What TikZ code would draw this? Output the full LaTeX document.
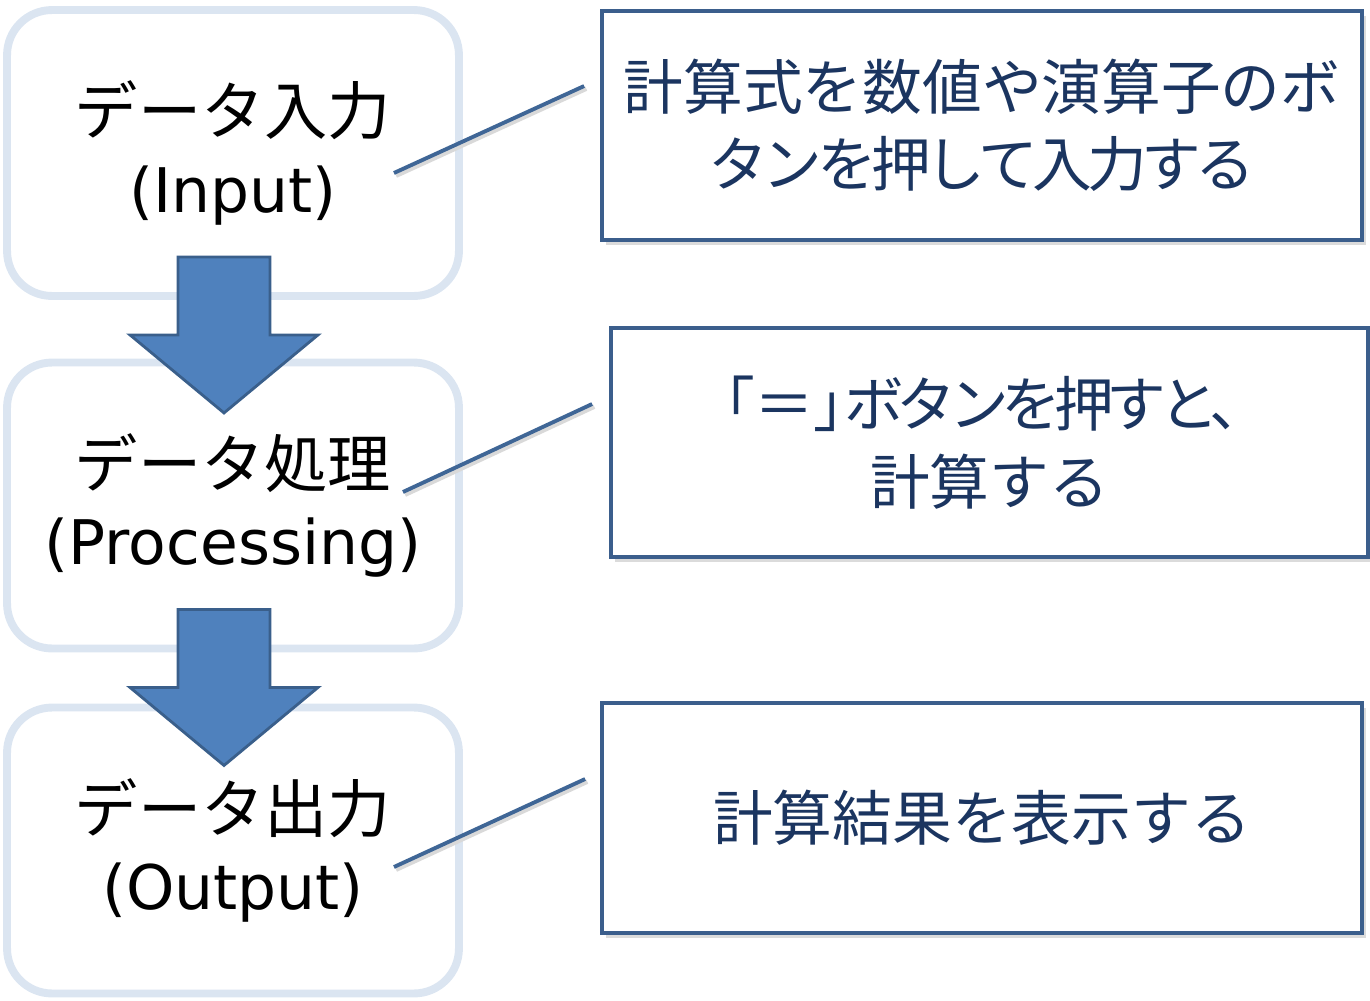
\documentclass[tikz,border=0pt]{standalone}
\usepackage{fontspec}
\setmainfont{Noto Sans CJK JP}
\newfontfamily\latinfont{DejaVu Sans}
\usepackage{xcolor}
\usepackage{tikz}
\usetikzlibrary{positioning, calc, shadows}
\definecolor{stageedge}{HTML}{DBE5F1}
\definecolor{arrowfill}{HTML}{4F81BD}
\definecolor{arrowedge}{HTML}{3A5F8B}
\definecolor{noteedge}{HTML}{3B5E8C}
\definecolor{notetext}{HTML}{1B3560}
\definecolor{linkblue}{HTML}{3F6696}
\newcommand{\engl}[1]{{\latinfont\fontsize{35}{44}\selectfont #1}}
\newcommand{\tight}[2]{{\addfontfeatures{LetterSpace=#1}#2}}

\begin{document}
\begin{tikzpicture}[
  x=0.02cm, y=-0.02cm,
  stagebox/.style={rectangle, rounded corners=0.9cm, draw=stageedge, line width=4.5pt,
    fill=white, minimum width=9.04cm, minimum height=5.72cm, align=center,
    font=\fontsize{36}{44}\selectfont},
  notebox/.style={rectangle, draw=noteedge, line width=2.2pt, fill=white,
    drop shadow={shadow xshift=2.5pt, shadow yshift=-3pt, fill=black!28},
    minimum width=15.2cm, minimum height=4.58cm, align=center, text=notetext,
    font=\fontsize{34}{44}\selectfont},
  downarrow/.style={draw=arrowedge, line width=1.6pt, fill=arrowfill, line join=miter},
  link/.style={draw=linkblue, line width=2.2pt,
    preaction={draw=black!15, line width=2.6pt, transform canvas={xshift=1.2pt, yshift=-1.5pt}}},
]
  \useasboundingbox (0,0) rectangle (1370,1001);

  % steps on the left
  \node[stagebox] (input) at (233,153) {データ入力\\\engl{(Input)}};
  \node[stagebox] (process) at (233,505.5) {データ処理\\\engl{(Processing)}};
  \node[stagebox] (output) at (233,850.5) {データ出力\\\engl{(Output)}};

  % notes on the right
  \node[notebox] (calcin) at (982,125.5) {計算式を数値や演算子のボ\\\tight{-9}{タンを押して入力する}};
  \node[notebox, minimum width=15.14cm] (calcdo) at (989.5,442.5)
    {\hspace{0.3cm}{\addfontfeatures{RawFeature=+palt}「}＝{\addfontfeatures{RawFeature=+palt}」}\tight{-12}{ボタンを押すと、}\\計算する};
  \node[notebox, minimum height=4.6cm] (calcout) at (982,818) {計算結果を表示する};

  % block arrows between steps
  \foreach \from in {input, process}
    \draw[downarrow] ([xshift=-1.1cm, yshift=0.86cm]\from.south) -- ++(92,0) -- ++(0,78)
      -- ++(48,0) -- ++(-94,78) -- ++(-94,-78) -- ++(48,0) -- cycle;

  % links to the notes
  \draw[link] ([xshift=3.22cm, yshift=-0.4cm]input.center) -- ([xshift=-0.32cm, yshift=0.79cm]calcin.west);
  \draw[link] ([xshift=3.4cm, yshift=0.27cm]process.center) -- ([xshift=-0.34cm, yshift=0.77cm]calcdo.west);
  \draw[link] ([xshift=3.22cm, yshift=-0.33cm]output.center) -- ([xshift=-0.3cm, yshift=0.78cm]calcout.west);
\end{tikzpicture}
\end{document}
